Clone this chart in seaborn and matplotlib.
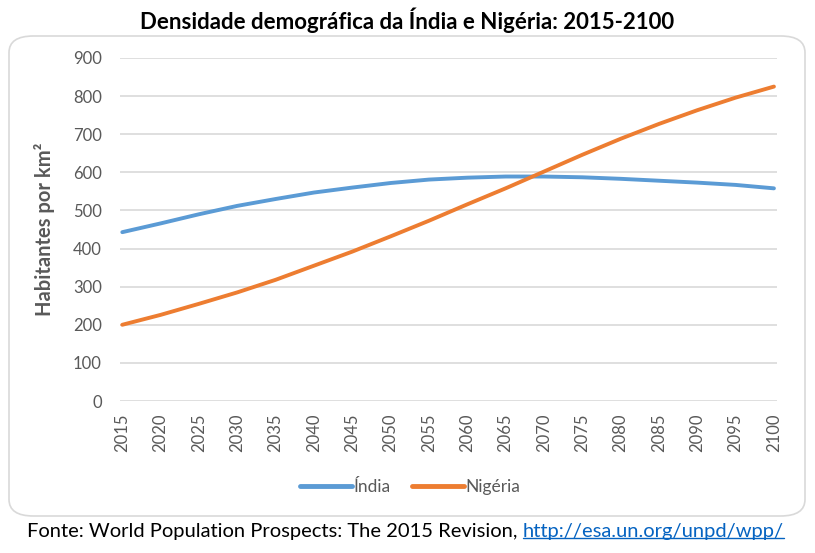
import matplotlib
matplotlib.use("Agg")
import matplotlib.pyplot as plt
import seaborn as sns
import pandas as pd
from matplotlib.patches import FancyBboxPatch
from matplotlib.lines import Line2D

years = [2015, 2020, 2025, 2030, 2035, 2040, 2045, 2050, 2055, 2060,
         2065, 2070, 2075, 2080, 2085, 2090, 2095, 2100]
india = [443, 466, 490, 512, 530, 547, 560, 572, 581, 586,
         589, 589, 587, 583, 578, 573, 567, 558]
nigeria = [200, 226, 255, 285, 318, 355, 392, 432, 473, 516,
           558, 602, 646, 688, 727, 763, 796, 825]
series_names = ["Índia", "Nigéria"]
colors = ["#5B9BD5", "#ED7D31"]
title = "Densidade demográfica da Índia e Nigéria: 2015-2100"
ylabel = "Habitantes por km²"
source = "Fonte: World Population Prospects: The 2015 Revision, "
link = "http://esa.un.org/unpd/wpp/"

sns.set_theme(style="white")
plt.rcParams['font.family'] = ['Lato', 'DejaVu Sans']

df = pd.DataFrame({
    "Ano": years * 2,
    "Valor": india + nigeria,
    "Série": [series_names[0]] * len(years) + [series_names[1]] * len(years),
})

W, H = 815, 553
fig = plt.figure(figsize=(W / 100, H / 100), dpi=100)

# rounded chart frame
frame = FancyBboxPatch((9 / W, 1 - 516 / H), (796 / W), (480 / H),
                       boxstyle="round,pad=0,rounding_size=0.03",
                       transform=fig.transFigure, facecolor="white",
                       edgecolor="#D9D9D9", linewidth=1.2, zorder=-10)
fig.patches.append(frame)

ax = fig.add_axes([120 / W, 1 - 401 / H, (777 - 120) / W, (401 - 58) / H])
ax.set_zorder(5)
ax.set_facecolor("none")
sns.lineplot(data=df, x="Ano", y="Valor", hue="Série", palette=colors,
             linewidth=2.8, ax=ax, legend=False)
for ln in ax.lines:
    ln.set_solid_capstyle("round")

ax.set_ylim(0, 900)
ax.set_xlim(2014.7, 2100.4)
ax.set_yticks(range(0, 901, 100))
ax.set_xticks(range(2015, 2101, 5))
ax.grid(axis="y", color="#D9D9D9", linewidth=1.2)
ax.set_axisbelow(True)
for s in ax.spines.values():
    s.set_visible(False)
ax.tick_params(axis="both", length=0, colors="#595959", labelsize=12)
ax.tick_params(axis="y", pad=13)
ax.tick_params(axis="x", pad=9)
for lab in ax.get_xticklabels():
    lab.set_rotation(90)
ax.set_xlabel("")
ax.set_ylabel(ylabel, fontsize=14.5, fontweight="bold", color="#595959")
ax.yaxis.set_label_coords(-0.099, 0.5)

fig.text(0.5, 1 - 20 / H, title, ha="center", va="center",
         fontsize=16, fontweight="bold", color="black")

handles = [Line2D([0], [0], color=c, linewidth=3.5, solid_capstyle="round") for c in colors]
fig.legend(handles, series_names, loc="center", bbox_to_anchor=(410 / W, 1 - 487 / H),
           ncol=2, frameon=False, fontsize=12.5, handlelength=3.0, handletextpad=0.1,
           columnspacing=1.2, labelcolor="#595959")

t1 = fig.text(27 / W, 1 - 532 / H, source, ha="left", va="center",
              fontsize=14.5, color="black")
fig.canvas.draw()
r = fig.canvas.get_renderer()
bb = t1.get_window_extent(r)
x2 = bb.x1 / W
t2 = fig.text(x2, 1 - 532 / H, link, ha="left", va="center",
              fontsize=14.5, color="#0563C1")
fig.canvas.draw()
bb2 = t2.get_window_extent(r)
uy = (bb2.y0 + 3) / H
fig.add_artist(Line2D([bb2.x0 / W, bb2.x1 / W], [uy, uy], color="#0563C1",
                      linewidth=1.0, transform=fig.transFigure))

fig.savefig("out.png", dpi=100)
